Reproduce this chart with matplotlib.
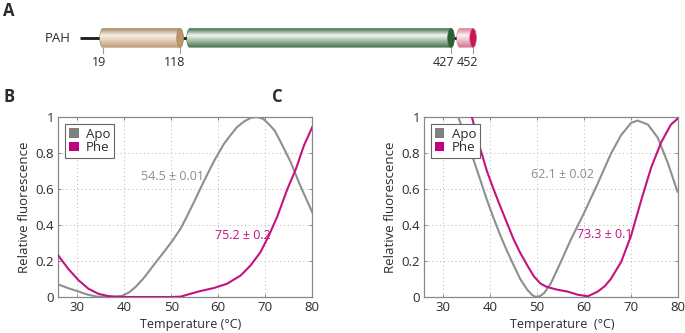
"""
PAH domain diagram + thermal shift curves (Apo vs Phe) for full-length and truncated protein.
"""

import numpy as np
import matplotlib
matplotlib.use('Agg')
import matplotlib.pyplot as plt
import matplotlib.patches as patches
from matplotlib.path import Path
from matplotlib.colors import LinearSegmentedColormap

plt.rcParams['font.family'] = ['Open Sans', 'DejaVu Sans']

# ---- data ----
domain_labels = ['19', '118', '427', '452']

temp_b_apo = [26, 28, 30, 32, 34, 36, 38, 39.5, 41, 42.4, 44, 45.2, 46.5, 48, 50.2, 52, 53,
              54.8, 56.9, 59.1, 61.2, 62.5, 64, 65.5, 66.9, 68.3, 69.5, 70.4, 72, 73.2,
              75.4, 77.5, 80]
rel_b_apo = [0.07, 0.05, 0.033, 0.015, 0.003, 0.0, 0.0, 0.006, 0.025, 0.055, 0.10, 0.14, 0.185,
             0.235, 0.31, 0.38, 0.43, 0.525, 0.64, 0.755, 0.85, 0.895, 0.944, 0.975, 0.995, 1.0,
             0.99, 0.97, 0.925, 0.865, 0.75, 0.615, 0.47]

temp_b_phe = [26, 28.1, 30.3, 32.4, 34.5, 36.6, 38.5, 40, 45, 50, 52, 54.1, 56.2, 59.1, 61.9,
              64.8, 66.9, 69, 70.8, 72.6, 74.7, 76.5, 78.2, 80]
rel_b_phe = [0.23, 0.157, 0.093, 0.046, 0.018, 0.005, 0.002, 0.0, 0.0, 0.0, 0.002, 0.018,
             0.033, 0.05, 0.074, 0.12, 0.176, 0.25, 0.343, 0.45, 0.6, 0.71, 0.84, 0.944]

temp_c_apo = [33.3, 35, 36.6, 38, 39.4, 40.8, 42.3, 43.7, 45.1, 46.5, 48, 49, 49.8, 50.6,
              51.6, 53, 54.5, 57.3, 60.1, 63, 65.8, 68, 70.1, 71.5, 73.7, 75.8, 78, 80]
rel_c_apo = [1.0, 0.88, 0.758, 0.65, 0.54, 0.44, 0.34, 0.255, 0.176, 0.10, 0.04, 0.012, 0.0,
             0.003, 0.022, 0.075, 0.158, 0.32, 0.467, 0.63, 0.795, 0.90, 0.967, 0.98,
             0.958, 0.885, 0.74, 0.585]

temp_c_phe = [36.2, 37.8, 39.4, 40.8, 42.3, 43.7, 45.1, 46.5, 48, 49.4, 50.8, 52, 53, 54.5,
              56.6, 58.7, 60.9, 63, 64.5, 65.8, 68, 70.1, 72.3, 74.4, 76.5, 78.6, 80]
rel_c_phe = [1.0, 0.84, 0.70, 0.60, 0.50, 0.41, 0.32, 0.245, 0.176, 0.115, 0.075, 0.058, 0.05,
             0.04, 0.03, 0.013, 0.004, 0.03, 0.06, 0.10, 0.195, 0.34, 0.54, 0.72, 0.858,
             0.958, 0.99]

tm_b = [(57.0, 0.67, '54.5 \u00b1 0.01'), (71.2, 0.34, '75.2 \u00b1 0.2')]
tm_c = [(62.2, 0.68, '62.1 \u00b1 0.02'), (70.4, 0.35, '73.3 \u00b1 0.1')]

APO = '#8f8f8f'
PHE = '#c4127f'
TXT = '#2b2b2b'
FS = 9.5

fig = plt.figure(figsize=(6.85, 3.33), dpi=100)

# ===== panel A: domain cylinders (pixel coordinates) =====
axA = fig.add_axes([0, 1 - 100 / 333, 1, 100 / 333])
axA.set_xlim(0, 685)
axA.set_ylim(100, 0)
axA.axis('off')

y_top, y_bot = 28.5, 47.5
y_mid = (y_top + y_bot) / 2
rx = 3.3

axA.plot([80, 465], [y_mid, y_mid], color='#1a1a1a', lw=2.0, zorder=1, solid_capstyle='butt')


def cylinder(ax, x0, x1, c_top, c_light, c_bot, c_cap):
    t = np.linspace(np.pi / 2, 3 * np.pi / 2, 40)
    left = np.column_stack([x0 + rx * np.cos(t), y_mid - (y_bot - y_top) / 2 * np.sin(t)])
    t2 = np.linspace(-np.pi / 2, np.pi / 2, 40)
    right = np.column_stack([x1 + rx * np.cos(t2), y_mid - (y_bot - y_top) / 2 * np.sin(t2)])
    verts = np.vstack([left, right, left[:1]])
    path = Path(verts)
    clip = patches.PathPatch(path, facecolor='none', edgecolor='none', transform=ax.transData)
    ax.add_patch(clip)
    cmap = LinearSegmentedColormap.from_list('g', [(0, c_top), (0.38, c_light), (1, c_bot)])
    grad = np.linspace(0, 1, 120).reshape(-1, 1)
    im = ax.imshow(grad, cmap=cmap, aspect='auto', origin='upper',
                   extent=(x0 - rx, x1 + rx, y_bot, y_top), zorder=2, interpolation='bilinear')
    im.set_clip_path(clip)
    ax.add_patch(patches.PathPatch(path, facecolor='none', edgecolor=c_top, lw=0.4, zorder=3))
    ax.add_patch(patches.Ellipse((x1, y_mid), 2 * rx, y_bot - y_top, facecolor=c_cap,
                                 edgecolor=c_top, lw=0.4, zorder=3))


cylinder(axA, 103, 180, '#a2835d', '#f8f0e5', '#c2a27a', '#b8976b')
cylinder(axA, 190, 451, '#3a6a43', '#f2f6f0', '#4a7a52', '#2f5f37')
cylinder(axA, 460, 473, '#d27c93', '#fdf3f5', '#d3798f', '#c8185a')

tick_x = [103, 180, 451, 473]
label_x = [99, 175, 443, 467]
for x, lx, lab in zip(tick_x, label_x, domain_labels):
    axA.plot([x, x], [y_bot, y_bot + 5], color='#999999', lw=0.8)
    axA.text(lx, 62, lab, ha='center', va='center', fontsize=9, color=TXT)

axA.text(71, y_mid + 1, 'PAH', ha='right', va='center', fontsize=9.5, color=TXT)

fig.text(9 / 685, 1 - 11 / 333, 'A', ha='center', va='center', fontsize=12, fontweight='bold', color=TXT)
fig.text(9 / 685, 1 - 97 / 333, 'B', ha='center', va='center', fontsize=12, fontweight='bold', color=TXT)
fig.text(277 / 685, 1 - 97 / 333, 'C', ha='center', va='center', fontsize=12, fontweight='bold', color=TXT)


# ===== panels B and C =====
def melt_panel(rect, t_apo, r_apo, t_phe, r_phe, notes, xlabel, xlabel_x):
    ax = fig.add_axes(rect)
    ax.plot(t_apo, r_apo, color=APO, lw=1.5, label='Apo', zorder=3)
    ax.plot(t_phe, r_phe, color=PHE, lw=1.5, label='Phe', zorder=4)
    ax.set_xlim(26, 80)
    ax.set_ylim(0, 1)
    ax.set_xticks([30, 40, 50, 60, 70, 80])
    ax.set_yticks([0, 0.2, 0.4, 0.6, 0.8, 1])
    ax.set_yticklabels(['0', '0.2', '0.4', '0.6', '0.8', '1'])
    ax.grid(True, color='#b5b5b5', lw=0.7, linestyle=(0, (1, 3)))
    ax.tick_params(direction='in', length=2.5, width=0.6, color='#777777',
                   labelsize=FS, labelcolor=TXT, top=True, right=True, pad=3)
    for s in ax.spines.values():
        s.set_color('#888888')
        s.set_linewidth(0.9)
    ax.set_xlabel(xlabel, fontsize=9, color=TXT)
    ax.xaxis.set_label_coords(xlabel_x, -0.115)
    ax.set_ylabel('Relative fluorescence', fontsize=9.5, color=TXT, labelpad=3)
    ax.text(notes[0][0], notes[0][1], notes[0][2], color=APO, fontsize=9, ha='right', va='center')
    ax.text(notes[1][0], notes[1][1], notes[1][2], color=PHE, fontsize=9, ha='right', va='center')
    handles = [patches.Patch(facecolor='#808080', edgecolor='none'),
               patches.Patch(facecolor='#c0007f', edgecolor='none')]
    leg = ax.legend(handles, ['Apo', 'Phe'], loc='upper left', fontsize=9.5, fancybox=False,
                    handlelength=0.75, handleheight=0.75, handletextpad=0.55, borderpad=0.3,
                    labelspacing=0.05, borderaxespad=0.5, framealpha=1)
    leg.get_frame().set_edgecolor('#666666')
    leg.get_frame().set_linewidth(0.8)
    for t in leg.get_texts():
        t.set_color(TXT)
    return ax


melt_panel([58.3 / 685, 36 / 333, 254 / 685, 180 / 333], temp_b_apo, rel_b_apo,
           temp_b_phe, rel_b_phe, tm_b, 'Temperature (\u00b0C)', 0.522)
melt_panel([424 / 685, 36 / 333, 253.5 / 685, 180 / 333], temp_c_apo, rel_c_apo,
           temp_c_phe, rel_c_phe, tm_c, 'Temperature  (\u00b0C)', 0.544)

fig.savefig('out.png', dpi=100)
